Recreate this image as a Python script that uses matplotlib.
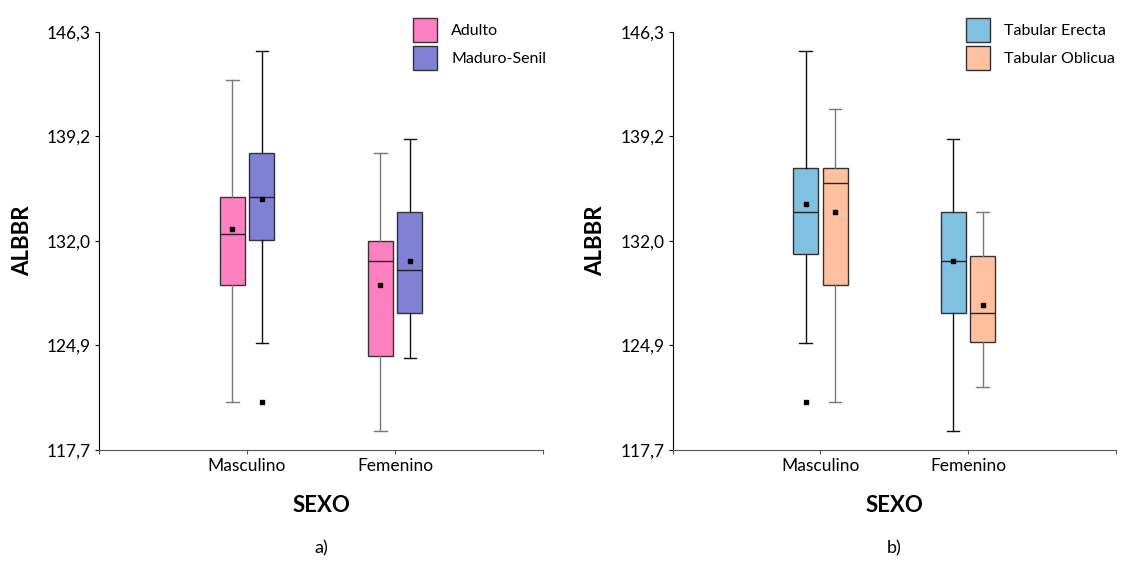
import numpy as np
import matplotlib.pyplot as plt
from matplotlib.patches import Patch
from matplotlib.ticker import FixedLocator

plt.rcParams['font.family'] = ['Lato', 'DejaVu Sans']

sexo = ['Masculino', 'Femenino']
y_ticks = [117.7, 124.9, 132.0, 139.2, 146.3]

# panel a) - edad
edad = ['Adulto', 'Maduro-Senil']
edad_colors = ['#FF80C0', '#8080D4']
edad_whisker = ['#7a7a7a', '#111111']
# [Masculino, Femenino] per group
edad_whislo = [[121.0, 119.0], [125.0, 124.0]]
edad_q1 = [[129.0, 124.1], [132.1, 127.1]]
edad_med = [[132.5, 130.6], [135.0, 130.0]]
edad_q3 = [[135.0, 132.0], [138.0, 134.0]]
edad_whishi = [[143.0, 138.0], [145.0, 139.0]]
edad_mean = [[132.8, 129.0], [134.9, 130.6]]
edad_fliers = [[[], []], [[121.0], []]]

# panel b) - deformacion
deform = ['Tabular Erecta', 'Tabular Oblicua']
deform_colors = ['#80C0E0', '#FFC0A0']
deform_whisker = ['#111111', '#7a7a7a']
deform_whislo = [[125.0, 119.0], [121.0, 122.0]]
deform_q1 = [[131.1, 127.1], [129.0, 125.1]]
deform_med = [[134.0, 130.6], [136.0, 127.1]]
deform_q3 = [[137.0, 134.0], [137.0, 131.0]]
deform_whishi = [[145.0, 139.0], [141.0, 134.0]]
deform_mean = [[134.5, 130.6], [134.0, 127.6]]
deform_fliers = [[[121.0], []], [[], []]]


def panel(ax, names, colors, wcolors, whislo, q1, med, q3, whishi, mean, fliers,
          letra, leg_x):
    offsets = [-0.1, 0.1]
    for g in range(len(names)):
        stats = []
        for i in range(len(sexo)):
            stats.append(dict(whislo=whislo[g][i], q1=q1[g][i], med=med[g][i],
                              q3=q3[g][i], whishi=whishi[g][i], mean=mean[g][i],
                              fliers=fliers[g][i]))
        pos = np.arange(1, len(sexo) + 1) + offsets[g]
        ax.bxp(stats, positions=pos, widths=0.17, patch_artist=True,
               showmeans=True, manage_ticks=False,
               boxprops=dict(facecolor=colors[g], edgecolor='#333333', linewidth=1.0),
               medianprops=dict(color='#222222', linewidth=1.0),
               whiskerprops=dict(color=wcolors[g], linewidth=1.0),
               capprops=dict(color=wcolors[g], linewidth=1.0),
               meanprops=dict(marker='s', markerfacecolor='black',
                              markeredgecolor='black', markersize=3),
               flierprops=dict(marker='s', markerfacecolor='black',
                               markeredgecolor='black', markersize=3))

    ax.set_xlim(0, 3)
    ax.set_ylim(y_ticks[0], y_ticks[-1])
    ax.xaxis.set_major_locator(FixedLocator([0, 1, 2, 3]))
    ax.set_xticklabels([''] + sexo + [''], fontsize=12.5)
    ax.set_yticks(y_ticks)
    ax.set_yticklabels([f'{v:.1f}'.replace('.', ',') for v in y_ticks], fontsize=12.5)
    ax.tick_params(axis='both', length=3, width=0.8, pad=3)
    ax.tick_params(axis='x', colors='#555555', labelcolor='black')
    ax.spines['top'].set_visible(False)
    ax.spines['right'].set_visible(False)
    ax.spines['bottom'].set_color('#555555')
    ax.spines['left'].set_color('black')
    ax.set_xlabel('SEXO', fontsize=16, fontweight='bold', labelpad=15)
    ax.set_ylabel('ALBBR', fontsize=16, fontweight='bold', labelpad=10)

    handles = [Patch(facecolor=c, edgecolor='#333333', label=n) for c, n in zip(colors, names)]
    ax.legend(handles=handles, loc='upper left', bbox_to_anchor=(leg_x, 1.034),
              frameon=False, fontsize=11.5, handlelength=1.5, handleheight=1.93,
              handletextpad=0.9, labelspacing=0.25, borderaxespad=0, borderpad=0)
    ax.text(0.5, -0.215, letra, transform=ax.transAxes, ha='center', va='top', fontsize=13)


fig = plt.figure(figsize=(11.24, 5.65), dpi=100)
ax1 = fig.add_axes([0.0881, 0.2035, 0.395, 0.7398])
ax2 = fig.add_axes([0.5985, 0.2035, 0.394, 0.7398])

panel(ax1, edad, edad_colors, edad_whisker, edad_whislo, edad_q1, edad_med,
      edad_q3, edad_whishi, edad_mean, edad_fliers, 'a)', 0.707)
panel(ax2, deform, deform_colors, deform_whisker, deform_whislo, deform_q1, deform_med,
      deform_q3, deform_whishi, deform_mean, deform_fliers, 'b)', 0.662)

fig.savefig('out.png', dpi=100)
